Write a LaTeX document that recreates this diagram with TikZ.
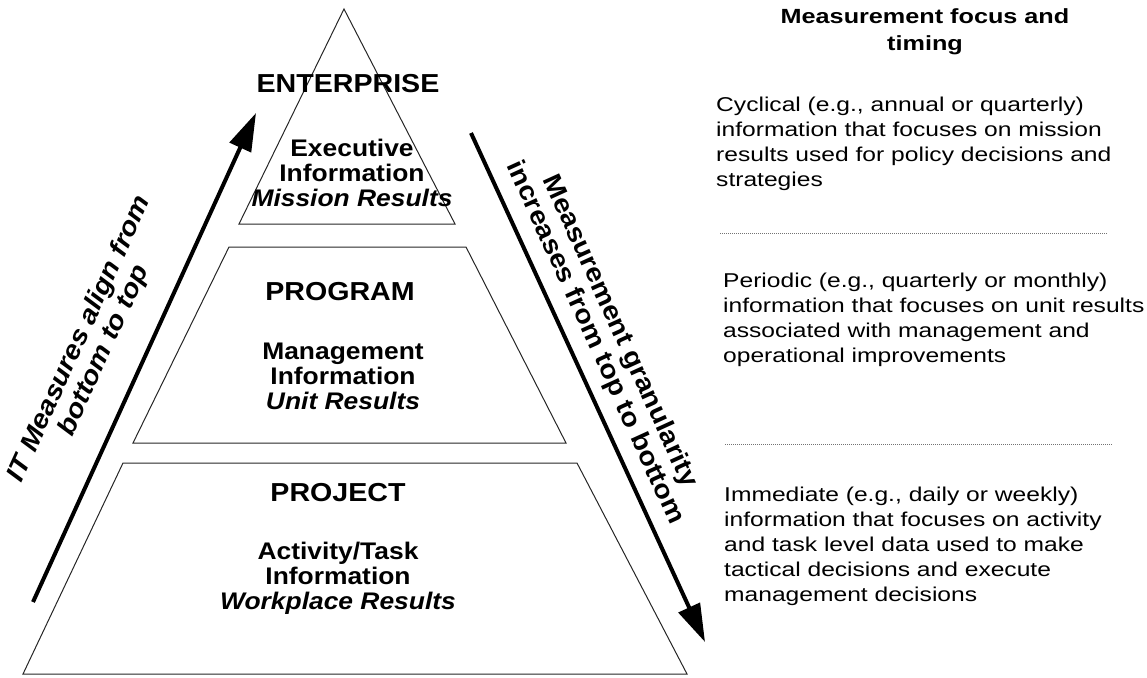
\documentclass[tikz,border=0pt]{standalone}
\usepackage{fontspec}
\setmainfont{Liberation Sans}[FakeStretch=1.23]
\newfontfamily\pyrfont{Liberation Sans}[FakeStretch=1.1]
\usetikzlibrary{arrows.meta}
\tikzset{
  layer/.style={draw=black!85, line width=1pt},
  bigarrow/.style={line width=4pt, -{Triangle[length=38pt,width=23pt]}},
  tierlabel/.style={font=\pyrfont\bfseries\fontsize{26}{28}\selectfont, inner sep=0pt},
  infolabel/.style={font=\pyrfont\bfseries\fontsize{24}{25}\selectfont, align=center, inner sep=0pt},
  sidelabel/.style={font=\pyrfont\bfseries\fontsize{26}{27}\selectfont, align=center, inner sep=0pt},
  slantlabel/.style={sidelabel, font=\pyrfont\bfseries\itshape\fontsize{26}{27}\selectfont},
  focustext/.style={font=\fontsize{20}{25}\selectfont, align=left, anchor=north west, inner sep=0pt},
  sep/.style={draw=black!55, line width=0.8pt, dash pattern=on 1pt off 1pt}
}
\begin{document}
\begin{tikzpicture}[x=1pt, y=-1pt]
\useasboundingbox (0,0) rectangle (1147,677);

% pyramid tiers
\draw[layer] (344,9) -- (455,224) -- (239,224) -- cycle;
\draw[layer] (229,247) -- (466,247) -- (566,443) -- (133,443) -- cycle;
\draw[layer] (123,463) -- (577,463) -- (687,674) -- (23,674) -- cycle;

\node[tierlabel] (enterprise) at (348,84) {ENTERPRISE};
\node[infolabel] (execinfo) at (352,173) {Executive\\Information\\\textit{Mission Results}};
\node[tierlabel] (program) at (340,292) {PROGRAM};
\node[infolabel] (mgmtinfo) at (343,376) {Management\\Information\\\textit{Unit Results}};
\node[tierlabel] (project) at (338,493) {PROJECT};
\node[infolabel] (taskinfo) at (338,578) {Activity/Task\\Information\\\textit{Workplace Results}};

% side arrows
\coordinate (alignS) at (33,602);
\coordinate (alignE) at (256,113);
\coordinate (granS) at (471,133);
\coordinate (granE) at (705,642);
\draw[bigarrow] (alignS) -- (alignE);
\draw[bigarrow] (granS) -- (granE);

\node[slantlabel, rotate=65.5] (alignlabel) at (92,345) {IT Measures align from\\bottom to top};
\node[sidelabel, rotate=-65.5] (granlabel) at (607,337) {Measurement granularity\\increases from top to bottom};

% focus and timing
\node[font=\bfseries\fontsize{20.5}{27}\selectfont, align=center, inner sep=0pt] (focustitle) at (925,32) {Measurement focus and\\timing};
\node[focustext] (cyclical) at (716,97) {Cyclical (e.g., annual or quarterly)\\information that focuses on mission\\results used for policy decisions and\\strategies};
\draw[sep] (720,233) -- (1108,233);
\node[focustext] (periodic) at (723,273) {Periodic (e.g., quarterly or monthly)\\information that focuses on unit results\\associated with management and\\operational improvements};
\draw[sep] (725,444) -- (1113,444);
\node[focustext] (immediate) at (724,487) {Immediate (e.g., daily or weekly)\\information that focuses on activity\\and task level data used to make\\tactical decisions and execute\\management decisions};
\end{tikzpicture}
\end{document}
